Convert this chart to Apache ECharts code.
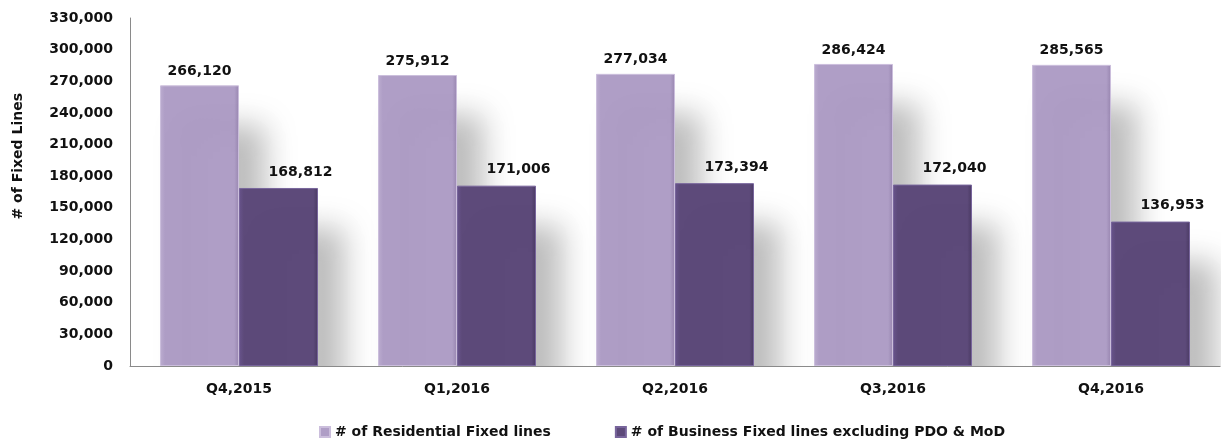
<!DOCTYPE html>
<html>
<head>
<meta charset="utf-8">
<title>Fixed Lines</title>
<script src="https://cdn.jsdelivr.net/npm/echarts@6/dist/echarts.min.js"></script>
<style>
    html, body { margin: 0; padding: 0; background: #fff; }
    #main { width: 1221px; height: 448px; }
</style>
</head>
<body>
<div id="main"></div>
<script>
//---数据定义区----------------------------------
var categories = ['Q4,2015', 'Q1,2016', 'Q2,2016', 'Q3,2016', 'Q4,2016'];
var residential = [266120, 275912, 277034, 286424, 285565];
var business = [168812, 171006, 173394, 172040, 136953];
var seriesNames = ['# of Residential Fixed lines', '# of Business Fixed lines excluding PDO & MoD'];
var yTicks = { min: 0, max: 330000, step: 30000 };
//----------------------------------------------

//---常量定义区----------------------------------
var FONT = 'DejaVu Sans';
var TEXT = '#111';
var SIZE = 14;
//----------------------------------------------

var fmt = function (v) {
    return String(v).replace(/\B(?=(\d{3})+(?!\d))/g, ',');
};

// 柱子的阴影 (假3D效果)
var shadow = {
    shadowColor: 'rgba(0,0,0,0.26)',
    shadowBlur: 30,
    shadowOffsetX: 26,
    shadowOffsetY: 40
};

var chart = echarts.init(document.getElementById('main'), null, { renderer: 'canvas' });

var option = {
    backgroundColor: '#fff',
    animation: false,
    grid: { left: 130, right: 1, top: 18, bottom: 82 },
    legend: {
        bottom: 4,
        left: 314,
        itemWidth: 10,
        itemHeight: 10,
        itemGap: 64,
        icon: 'rect',
        z: 6,
        textStyle: { fontFamily: FONT, fontWeight: 'bold', fontSize: SIZE, color: TEXT }
    },
    graphic: [{
        // 遮住轴线下方的阴影
        type: 'rect',
        left: 131,
        top: 367,
        z: 3,
        shape: { width: 1090, height: 81 },
        style: { fill: '#fff' }
    }, {
        type: 'text',
        left: 11,
        top: 93,
        rotation: Math.PI / 2,
        style: {
            text: '# of Fixed Lines',
            font: 'bold ' + SIZE + 'px "' + FONT + '"',
            fill: TEXT
        }
    }],
    xAxis: {
        type: 'category',
        data: categories,
        z: 5,
        axisLine: { lineStyle: { color: '#8a8a8a', width: 1 } },
        axisTick: { show: false },
        axisLabel: { margin: 16, fontFamily: FONT, fontWeight: 'bold', fontSize: SIZE, color: TEXT }
    },
    yAxis: {
        type: 'value',
        min: yTicks.min,
        max: yTicks.max,
        interval: yTicks.step,
        z: 5,
        axisLine: { show: true, lineStyle: { color: '#8a8a8a', width: 1 } },
        axisTick: { show: false },
        splitLine: { show: false },
        axisLabel: {
            margin: 17,
            fontFamily: FONT, fontWeight: 'bold', fontSize: SIZE, color: TEXT,
            formatter: fmt
        }
    },
    series: [{
        name: seriesNames[0],
        type: 'bar',
        data: residential,
        barWidth: 79,
        barGap: '0%',
        itemStyle: Object.assign({
            color: new echarts.graphic.LinearGradient(0, 0, 1, 0, [
                { offset: 0, color: '#bcadd0' },
                { offset: 0.06, color: '#af9ec6' },
                { offset: 0.94, color: '#af9ec6' },
                { offset: 1, color: '#9886b0' }
            ]),
            borderColor: '#cbbedc',
            borderWidth: 1
        }, shadow),
        label: {
            show: true,
            position: 'top',
            distance: 7,
            fontFamily: FONT, fontWeight: 'bold', fontSize: SIZE, color: TEXT,
            formatter: function (p) { return fmt(p.value); }
        }
    }, {
        name: seriesNames[1],
        type: 'bar',
        data: business,
        barWidth: 79,
        barGap: '0%',
        itemStyle: Object.assign({
            color: new echarts.graphic.LinearGradient(0, 0, 1, 0, [
                { offset: 0, color: '#68548c' },
                { offset: 0.06, color: '#5d4a7a' },
                { offset: 0.94, color: '#5d4a7a' },
                { offset: 1, color: '#4a3a63' }
            ]),
            borderColor: '#78659c',
            borderWidth: 1
        }, shadow),
        label: {
            show: true,
            position: 'top',
            distance: 9,
            offset: [22, 0],
            fontFamily: FONT, fontWeight: 'bold', fontSize: SIZE, color: TEXT,
            formatter: function (p) { return fmt(p.value); }
        }
    }],
    color: ['#af9ec6', '#5d4a7a']
};

chart.setOption(option);
</script>
</body>
</html>
